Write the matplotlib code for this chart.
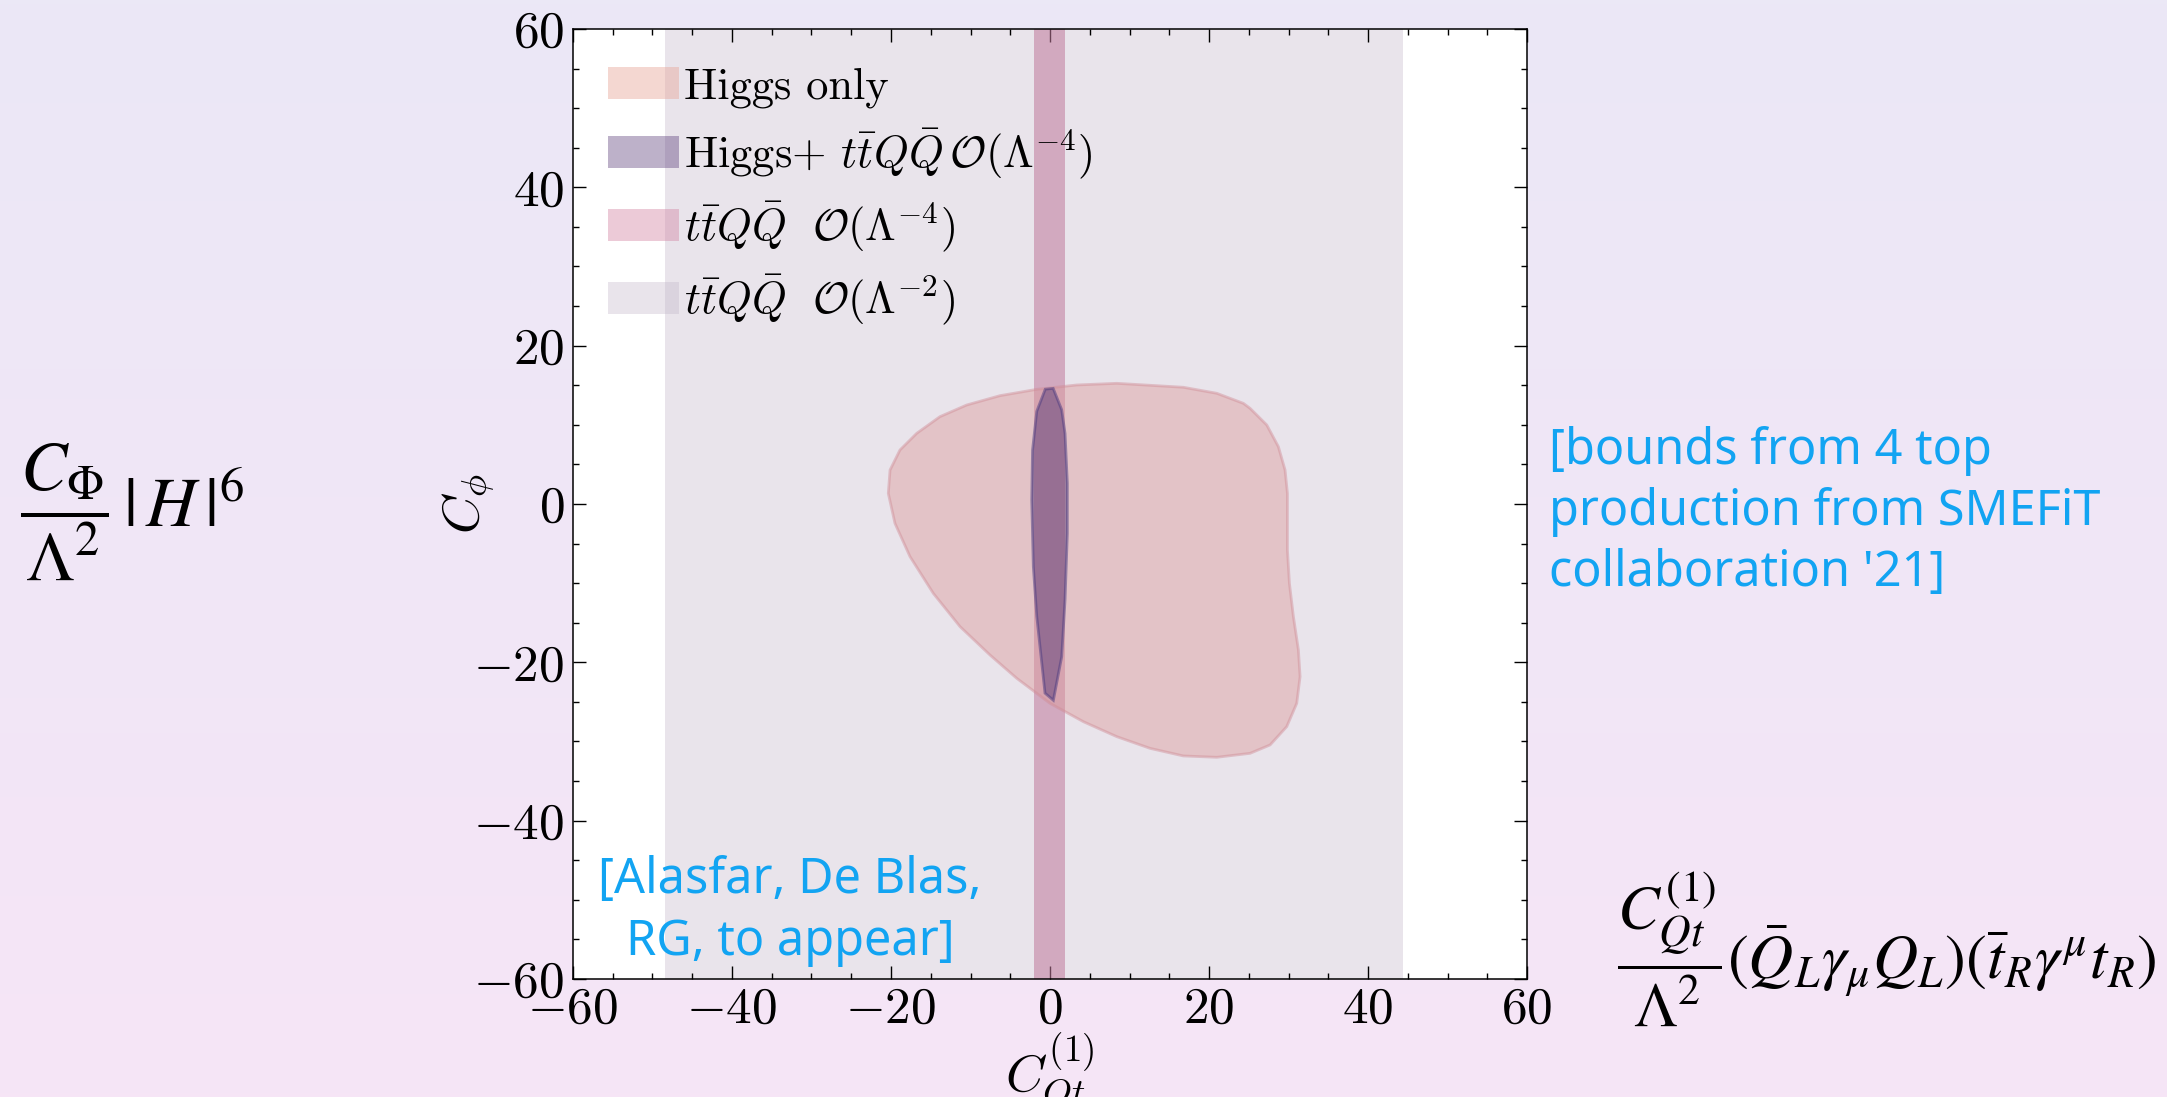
"""Higgs-only vs 4-top bounds in the (C_Qt^(1), C_phi) plane, slide version."""
import matplotlib
matplotlib.use('Agg')
import matplotlib.pyplot as plt
import numpy as np
from matplotlib.colors import LinearSegmentedColormap
from matplotlib.patches import Patch

plt.rcParams['font.family'] = 'serif'
plt.rcParams['font.serif'] = ['cmr10']
plt.rcParams['mathtext.fontset'] = 'cm'
plt.rcParams['axes.formatter.use_mathtext'] = True

# 4-top bounds (1D intervals on C_Qt^(1))
band_lin = [-48.4, 44.4]     # O(Lambda^-2)
band_quad = [-2.0, 1.9]      # O(Lambda^-4)

# Higgs only contour
higgs_x = [-1.67, 3.36, 8.39, 16.77, 20.97, 24.32, 25.16, 27.26, 28.72, 29.56,
           29.86, 29.86, 29.86, 30.11, 30.61, 31.24, 31.45, 31.03, 29.77, 27.68,
           25.16, 20.97, 16.77, 12.58, 8.39, 4.19, 0.0, -4.19, -7.55, -11.32,
           -14.68, -17.61, -19.50, -20.34, -20.12, -18.87, -16.77, -13.84, -10.48, -6.29]
higgs_y = [14.48, 15.03, 15.24, 14.74, 13.98, 12.71, 12.08, 9.98, 7.24, 4.29,
           1.34, -2.45, -5.81, -10.03, -14.23, -18.44, -21.81, -25.18, -28.13, -30.44,
           -31.50, -32.00, -31.83, -30.87, -29.39, -27.50, -25.18, -22.02, -19.08, -15.49,
           -11.29, -6.65, -2.45, 1.34, 4.29, 6.82, 8.92, 11.03, 12.50, 13.68]

# Higgs + 4-top O(Lambda^-4) contour
comb_x = [-0.6, 0.4, 1.47, 1.89, 2.18, 2.18, 1.89, 1.47, 0.42, -0.63,
          -1.67, -2.1, -2.3, -2.2, -1.67]
comb_y = [14.5, 14.6, 11.9, 8.9, 2.6, -3.7, -12.1, -19.3, -24.8, -23.9,
          -14.2, -7.9, 0.5, 6.8, 11.7]

labels = ['Higgs only',
          r'Higgs+ $t\bar{t}Q\bar{Q}\,\mathcal{O}(\Lambda^{-4})$',
          r'$t\bar{t}Q\bar{Q}\ \ \mathcal{O}(\Lambda^{-4})$',
          r'$t\bar{t}Q\bar{Q}\ \ \mathcal{O}(\Lambda^{-2})$']

fig = plt.figure(figsize=(21.67, 10.97), dpi=100)

# slide background gradient
bg = fig.add_axes([0, 0, 1, 1], zorder=-10)
cmap_bg = LinearSegmentedColormap.from_list('bg', ['#f6e5f6', '#ebe8f6'])
bg.imshow(np.linspace(0, 1, 256).reshape(-1, 1), aspect='auto', cmap=cmap_bg,
          extent=[0, 1, 0, 1], origin='lower')
bg.axis('off')

ax = fig.add_axes([0.2644, 0.1076, 0.4403, 0.866])
ax.set_facecolor('white')

c_lin = ('#c0b4c8', 0.35)
c_quad = ('#c07a9c', 0.55)
c_higgs = ('#dc9c9c', 0.45)
c_comb = ('#5a3c78', 0.45)

ax.axvspan(band_lin[0], band_lin[1], color=c_lin[0], alpha=c_lin[1], lw=0, zorder=1)
ax.axvspan(band_quad[0], band_quad[1], color=c_quad[0], alpha=c_quad[1], lw=0, zorder=2)
ax.fill(higgs_x, higgs_y, facecolor=c_higgs[0], alpha=c_higgs[1],
        edgecolor='#d08c96', lw=2, joinstyle='round', zorder=3)
ax.fill(comb_x, comb_y, facecolor=c_comb[0], alpha=0.5,
        edgecolor='#4a3a80', lw=2, zorder=4)

ax.set_xlim(-60, 60)
ax.set_ylim(-60, 60)
ax.set_xticks(np.arange(-60, 61, 20))
ax.set_yticks(np.arange(-60, 61, 20))
ax.set_xticks(np.arange(-60, 61, 5), minor=True)
ax.set_yticks(np.arange(-60, 61, 5), minor=True)
ax.tick_params(which='both', direction='in', top=True, right=True, width=1)
ax.tick_params(which='major', length=9.5, labelsize=37, pad=6)
ax.tick_params(which='minor', length=4.3)
for s in ax.spines.values():
    s.set_linewidth(1.1)

ax.set_xlabel(r'$C_{Qt}^{(1)}$', fontsize=38)
ax.set_ylabel(r'$C_\phi$', fontsize=38)
ax.xaxis.set_label_coords(0.5, -0.056)
ax.yaxis.set_label_coords(-0.08, 0.5)

handles = [Patch(facecolor='#e8a89a', alpha=0.45, lw=0),
           Patch(facecolor='#5a3c78', alpha=0.4, lw=0),
           Patch(facecolor='#d58aa8', alpha=0.45, lw=0),
           Patch(facecolor=c_lin[0], alpha=c_lin[1], lw=0)]
ax.legend(handles, labels, loc='upper left', bbox_to_anchor=(0.037, 0.96),
          frameon=False, fontsize=32, handlelength=1.6, handleheight=0.72,
          handletextpad=0.1, labelspacing=0.42, borderpad=0, borderaxespad=0)

blue = '#12a4f2'
ax.text(-32.7, -51.4, '[Alasfar, De Blas,\nRG, to appear]', color=blue,
        family='Noto Sans', fontsize=35, ha='center', va='center',
        multialignment='center', linespacing=1.32, zorder=6)
fig.text(0.7148, 0.612, "[bounds from 4 top\nproduction from SMEFiT\ncollaboration '21]",
         color=blue, family='Noto Sans', fontsize=35, ha='left', va='top',
         linespacing=1.3)

# operator formulas
fig.text(0.0092, 0.5337, r'$\dfrac{C_\Phi}{\Lambda^2}\,|\,H\,|^6$',
         math_fontfamily='stix', fontsize=50, ha='left', va='center')
fig.text(0.7462, 0.1354,
         r'$\dfrac{C_{Qt}^{(1)}}{\Lambda^2}(\bar{Q}_L\gamma_\mu Q_L)(\bar{t}_R\gamma^\mu t_R)$',
         math_fontfamily='stix', fontsize=45, ha='left', va='center')

fig.savefig('out.png', dpi=100)
print('saved out.png')
